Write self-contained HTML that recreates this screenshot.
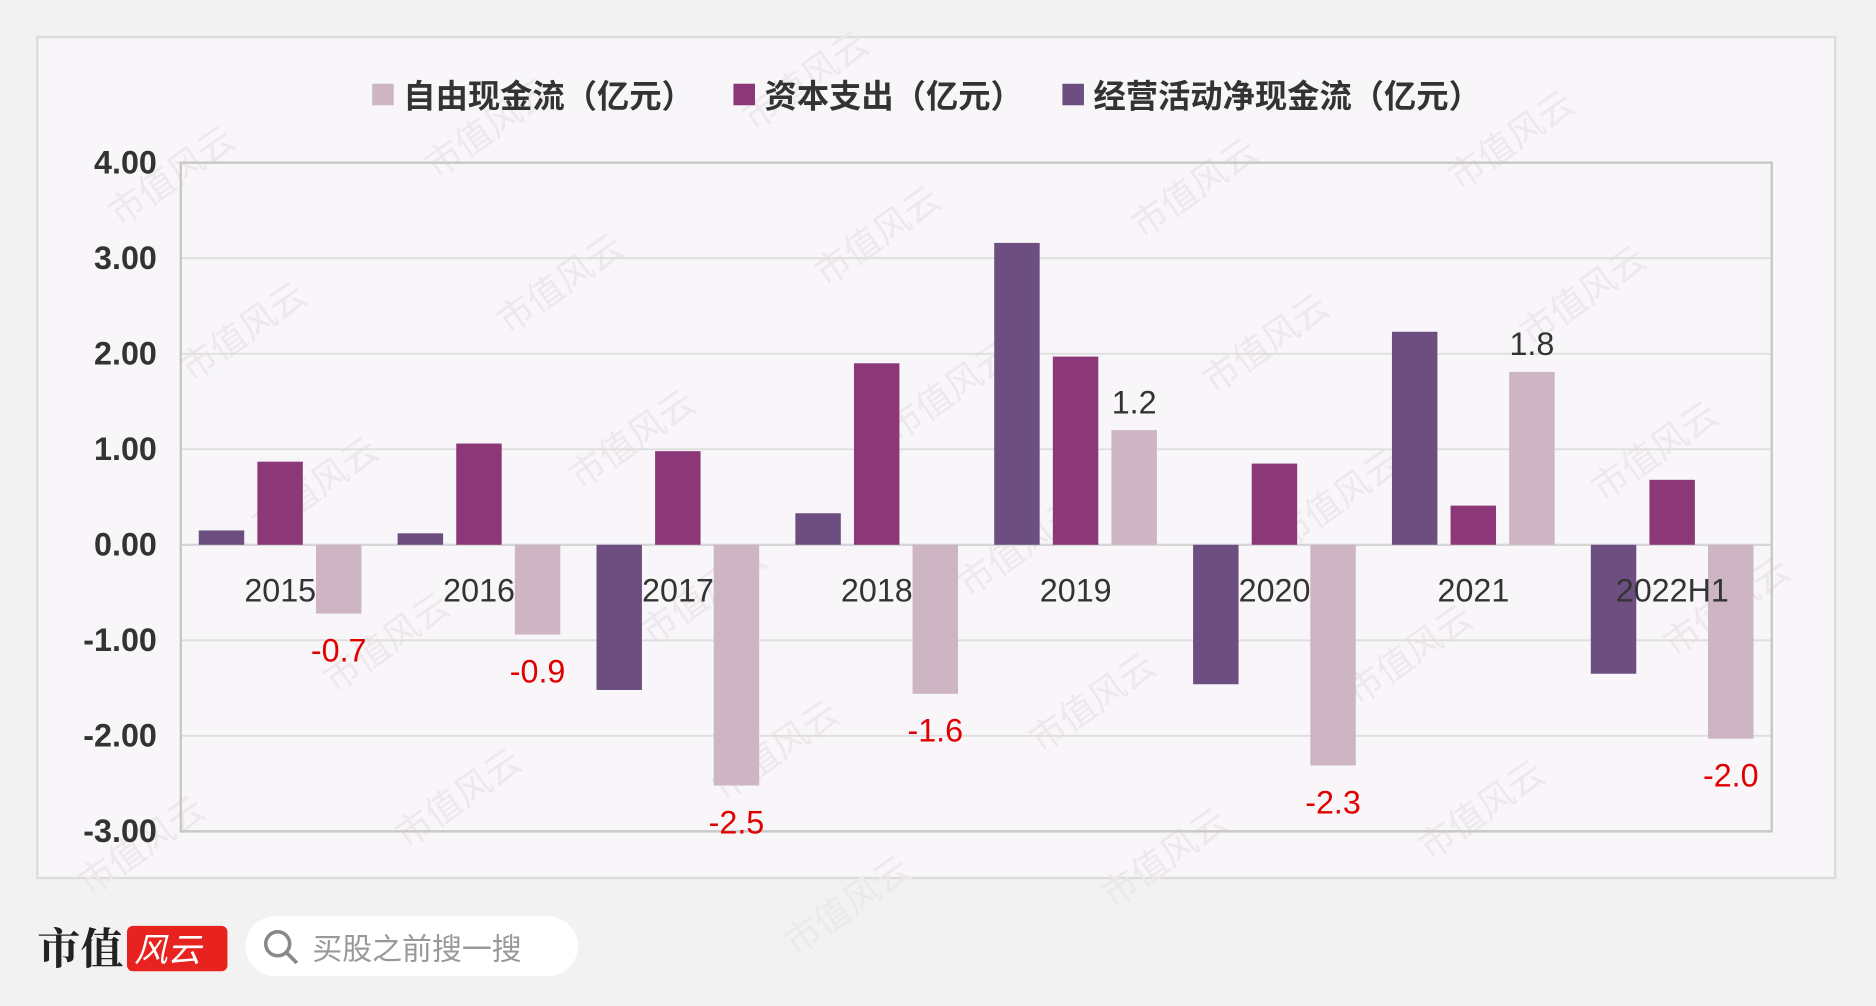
<!DOCTYPE html>
<html><head><meta charset="utf-8"><style>
html,body{margin:0;padding:0;background:#f2f2f2;width:1876px;height:1006px;overflow:hidden;}
svg{display:block;font-family:"Liberation Sans","Noto Sans CJK SC",sans-serif;}
</style></head><body>
<svg id="chart" width="1876" height="1006" viewBox="0 0 1568 841" xmlns="http://www.w3.org/2000/svg">
<rect x="0" y="0" width="1568" height="841" rx="28" fill="#f2f2f2"/>
<rect x="31" y="31" width="1503" height="703" fill="#f8f6f9" stroke="#dcdcdc" stroke-width="2"/>
<g id="wm" fill="#ece8ec" font-size="30"></g>
<g id="grid"></g>
<g id="bars"></g>
<g id="labels"></g>
<g font-size="27" fill="#333" font-weight="bold">
<g><rect x="311" y="70" width="18" height="18" fill="#cdb5c3"/><text x="337" y="90">自由现金流（亿元）</text></g>
<g><rect x="613" y="70" width="18" height="18" fill="#8b3778"/><text x="639" y="90">资本支出（亿元）</text></g>
<g><rect x="888" y="70" width="18" height="18" fill="#6c4f80"/><text x="914" y="90">经营活动净现金流（亿元）</text></g>
</g>
<g>
<text x="31" y="806" font-size="36" font-weight="bold" fill="#222" font-family="'Noto Serif CJK SC',serif">市值</text>
<rect x="106" y="774" width="84" height="38" rx="5" fill="#e8231f"/>
<text x="112" y="804" font-size="28" fill="#fff" font-style="italic">风云</text>
</g>
<g>
<rect x="205" y="766" width="278" height="50" rx="25" fill="#ffffff"/>
<circle cx="232" cy="789" r="10" fill="none" stroke="#888" stroke-width="3"/>
<line x1="239" y1="796" x2="248" y2="805" stroke="#888" stroke-width="3"/>
<text x="261" y="802" font-size="25" fill="#999">买股之前搜一搜</text>
</g>
</svg>
<script>
const categories=["2015","2016","2017","2018","2019","2020","2021","2022H1"];
const operatingCF=[0.15,0.12,-1.52,0.33,3.16,-1.46,2.23,-1.35];
const capex=[0.87,1.06,0.98,1.90,1.97,0.85,0.41,0.68];
const freeCF=[-0.72,-0.94,-2.52,-1.56,1.20,-2.31,1.81,-2.03];
const freeLabels=["-0.7","-0.9","-2.5","-1.6","1.2","-2.3","1.8","-2.0"];
const yTicks=[4,3,2,1,0,-1,-2,-3];
const yTickLabels=["4.00","3.00","2.00","1.00","0.00","-1.00","-2.00","-3.00"];

const NS="http://www.w3.org/2000/svg";
const L=151,R=1481,T=136,B=695,ymax=4,ymin=-3;
const y=v=>T+(ymax-v)/(ymax-ymin)*(B-T);
const gw=(R-L)/categories.length;
const gx=i=>L+i*gw;
function mk(tag,attrs,parent,txt){const e=document.createElementNS(NS,tag);for(const k in attrs)e.setAttribute(k,attrs[k]);if(txt!==undefined)e.textContent=txt;parent.appendChild(e);return e;}

const wm=document.getElementById('wm');
for(let r=-2;r<9;r++)for(let c=-1;c<8;c++){
  const x=c*265+r*60+40,yy=r*130+60-c*40;
  if(x<20||x>1400||yy<90||yy>820)continue;
  const t=mk('text',{x:x,y:yy,transform:`rotate(-35 ${x} ${yy})`},wm,'市值风云');
  
  
}

const grid=document.getElementById('grid');
yTicks.forEach((v,i)=>{
  const l=mk('line',{x1:L,x2:R,y1:y(v),y2:y(v),stroke:v===0?'#d6d6d6':'#dedede','stroke-width':v===0?2:1.5},grid);
  
  
  const t=mk('text',{x:131,y:y(v)+9,'text-anchor':'end','font-size':27,'font-weight':'bold',fill:'#333'},grid,yTickLabels[i]);
  
  
});
const frame=mk('rect',{x:L,y:T,width:R-L,height:B-T,fill:'none',stroke:'#c8c8c8','stroke-width':2},grid);



const bars=document.getElementById('bars');
const series=[[operatingCF,'#6c4f80','operating'],[capex,'#8b3778','capex'],[freeCF,'#cdb5c3','free']];
const bw=38,step=49;
categories.forEach((c,i)=>{
  series.forEach((s,j)=>{
    const v=s[0][i],x=gx(i)+15+j*step;
    const top=Math.min(y(v),y(0)),h=Math.abs(y(v)-y(0));
    const r=mk('rect',{x:x,y:top,width:bw,height:h,fill:s[1]},bars);
    
    
  });
});

const labels=document.getElementById('labels');
categories.forEach((c,i)=>{
  const t=mk('text',{x:gx(i)+gw/2,y:503,'text-anchor':'middle','font-size':27,fill:'#333'},labels,c);
  
  
  const v=freeCF[i],cx=gx(i)+15+2*step+bw/2;
  const ly=v<0?y(v)+40:y(v)-14;
  const d=mk('text',{x:cx,y:ly,'text-anchor':'middle','font-size':27,fill:v<0?'#e00000':'#333'},labels,freeLabels[i]);
  
  
});
</script>
</body></html>
